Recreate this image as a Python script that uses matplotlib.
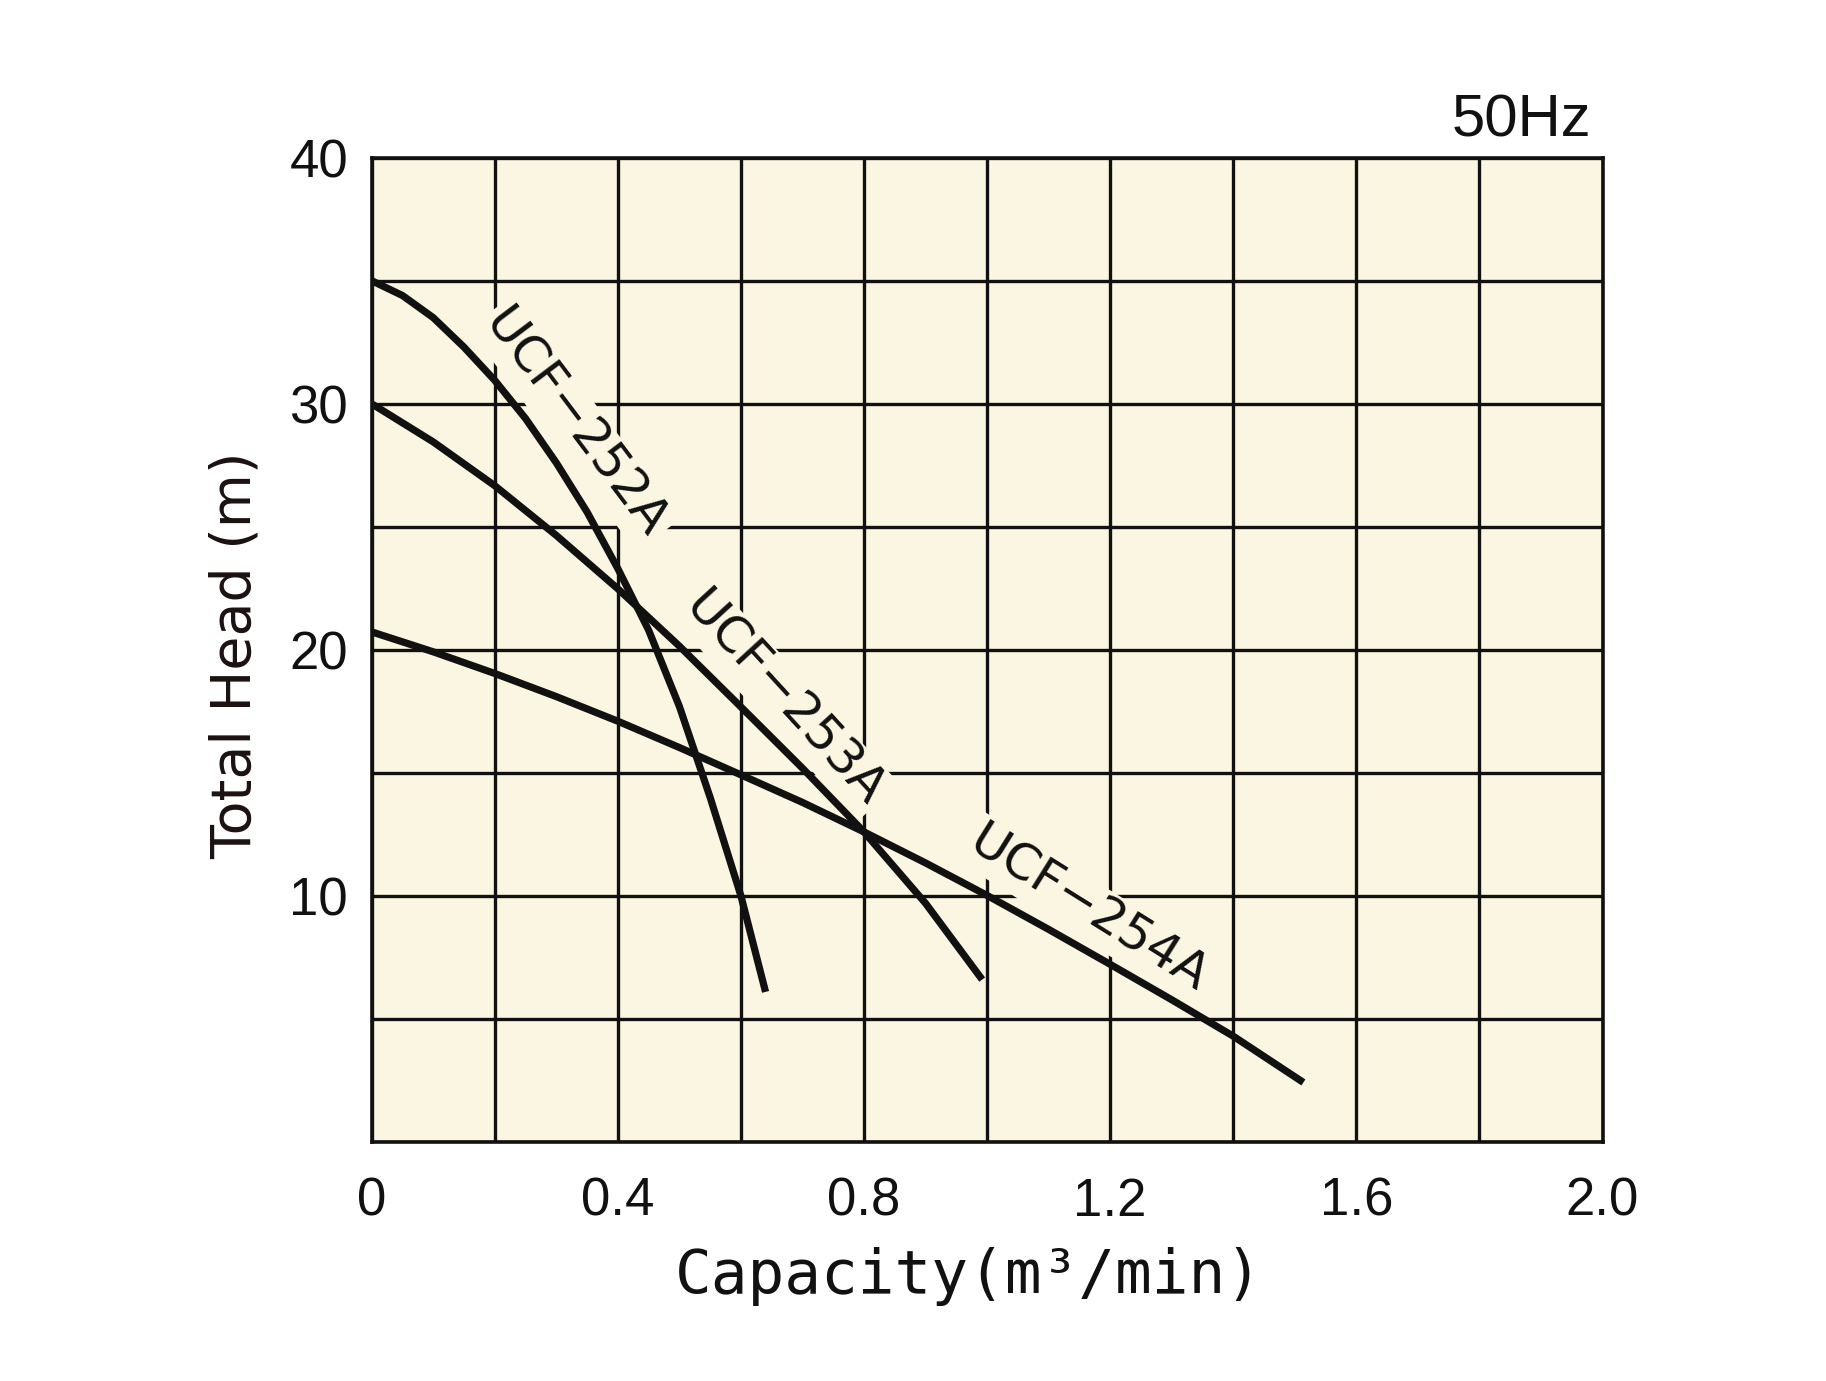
import matplotlib
matplotlib.use('Agg')
import matplotlib.pyplot as plt

# ---- data ----
capacity_252a = [0.0, 0.05, 0.1, 0.15, 0.2, 0.25, 0.3, 0.35, 0.4, 0.45, 0.5, 0.55, 0.6, 0.64]
head_252a = [35.0, 34.4, 33.5, 32.3, 30.95, 29.4, 27.6, 25.6, 23.3, 20.8, 17.7, 14.0, 10.0, 6.1]

capacity_253a = [0.0, 0.1, 0.2, 0.3, 0.4, 0.5, 0.6, 0.7, 0.8, 0.9, 0.992]
head_253a = [30.0, 28.45, 26.67, 24.65, 22.48, 20.15, 17.68, 15.19, 12.6, 9.7, 6.6]

capacity_254a = [0.0, 0.1, 0.2, 0.3, 0.4, 0.5, 0.6, 0.7, 0.8, 0.9, 1.0, 1.1, 1.2, 1.3, 1.4, 1.514]
head_254a = [20.73, 19.92, 19.04, 18.1, 17.1, 16.03, 14.92, 13.8, 12.6, 11.34, 10.02, 8.64, 7.22, 5.78, 4.3, 2.42]

model_names = ['UCF\u2212252A', 'UCF\u2212253A', 'UCF\u2212254A']
label_positions = [(0.33, 29.2, -53), (0.67, 18.0, -47.5), (1.164, 9.45, -32)]

x_ticks = [0.0, 0.2, 0.4, 0.6, 0.8, 1.0, 1.2, 1.4, 1.6, 1.8, 2.0]
x_tick_labels = ['0', '', '0.4', '', '0.8', '', '1.2', '', '1.6', '', '2.0']
y_ticks = [0, 5, 10, 15, 20, 25, 30, 35, 40]
y_tick_labels = ['', '', '10', '', '20', '', '30', '', '40']

# ---- styling ----
BG = '#FAF6E1'
INK = '#111111'
W, H = 1826, 1381

plt.rcParams['font.family'] = ['Liberation Sans', 'DejaVu Sans']

fig = plt.figure(figsize=(W / 100, H / 100), dpi=100)
left, right, top, bottom = 371.7, 1602.5, 157.7, 1142.0
ax = fig.add_axes([left / W, 1 - bottom / H, (right - left) / W, (bottom - top) / H])
ax.set_facecolor(BG)
ax.set_xlim(0, 2.0)
ax.set_ylim(0, 40)
ax.set_axisbelow(True)

ax.set_xticks(x_ticks)
ax.set_xticklabels(x_tick_labels)
ax.set_yticks(y_ticks)
ax.set_yticklabels(y_tick_labels)
ax.tick_params(axis='both', length=0, labelsize=38, colors=INK)
ax.tick_params(axis='x', pad=25)
ax.tick_params(axis='y', pad=17)
ax.grid(True, color=INK, linewidth=2.4)
for s in ax.spines.values():
    s.set_linewidth(2.6)
    s.set_color(INK)
    s.set_zorder(4)

for q, h in [(capacity_252a, head_252a), (capacity_253a, head_253a), (capacity_254a, head_254a)]:
    ax.plot(q, h, color=INK, linewidth=5.2, solid_capstyle='butt', solid_joinstyle='round', zorder=3)

for name, (qx, hy, rot) in zip(model_names, label_positions):
    ax.text(qx, hy, name, rotation=rot, rotation_mode='anchor', ha='center', va='center',
            fontsize=36, color=INK, zorder=2, family=['DejaVu Sans'],
            bbox=dict(facecolor=BG, edgecolor='none', pad=3))

fig.text(1591.7 / W, 1 - 136.7 / H, '50Hz', ha='right', va='baseline', fontsize=43, color=INK)
fig.text(251 / W, 1 - 655 / H, 'Total Head (m)', rotation=90, rotation_mode='anchor',
         ha='center', va='baseline', fontsize=40, color='#1a1110', family=['DejaVu Sans'])
fig.text(969 / W, 1 - 1293 / H, 'Capacity(m\u00b3/min)', ha='center', va='baseline',
         fontsize=44, color=INK, family=['DejaVu Sans Mono'])

fig.savefig('out.png', dpi=100, facecolor='white')
